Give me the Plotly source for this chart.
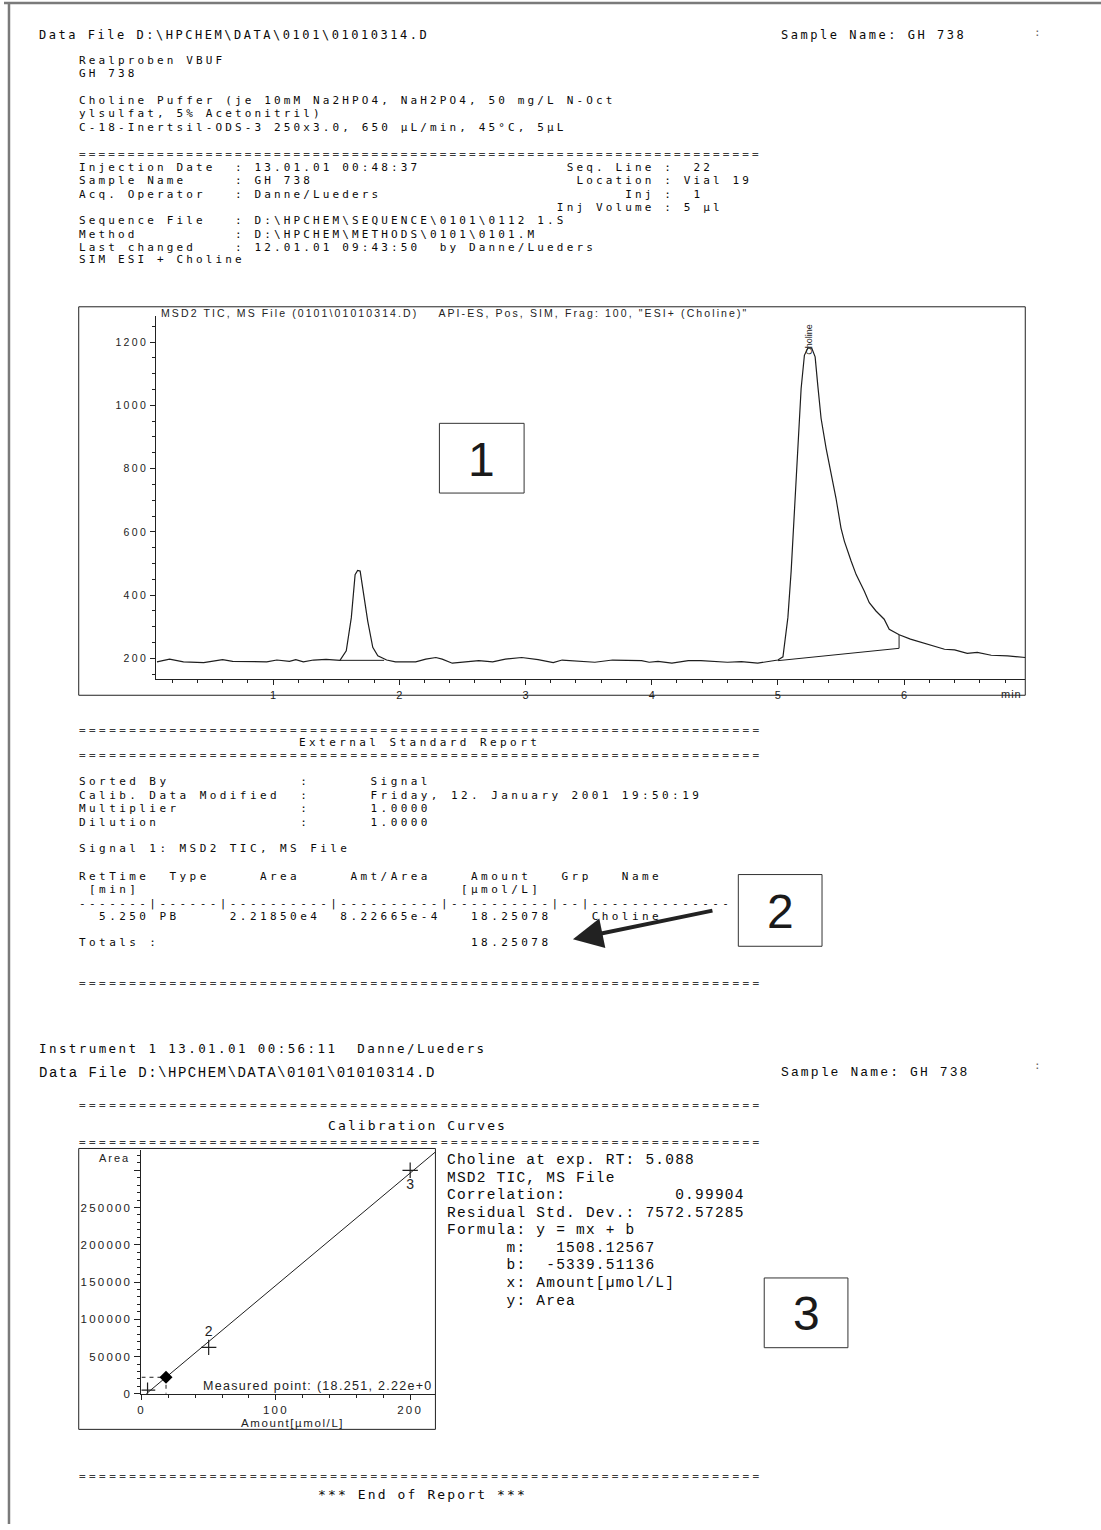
import plotly.graph_objects as go

W, H = 1101, 1530


def px(x):
    return x / W


def py(y):
    return 1 - y / H


MONO = "DejaVu Sans Mono, Liberation Mono, monospace"
MONO2 = "Liberation Mono, Courier New, monospace"
SANS = "Liberation Sans, Arial, sans-serif"
INK = "#0a0a0a"

# ---------------- data: chromatogram (time in min, TIC signal) ----------------
chrom_time = [0.08, 0.18, 0.29, 0.45, 0.60, 0.68, 0.95, 1.03, 1.13, 1.18, 1.24, 1.32, 1.42, 1.53,
              1.58, 1.62, 1.65, 1.67, 1.69, 1.71, 1.75, 1.79, 1.83, 1.90, 1.97, 2.13, 2.21, 2.29,
              2.34, 2.42, 2.53, 2.63, 2.74, 2.84, 2.97, 3.10, 3.22, 3.29, 3.55, 3.69, 3.92, 3.98,
              4.05, 4.16, 4.29, 4.39, 4.60, 4.71, 4.84, 4.92, 5.00, 5.04, 5.079, 5.105, 5.132,
              5.158, 5.184, 5.21, 5.237, 5.268, 5.295, 5.316, 5.342, 5.382, 5.42, 5.46, 5.50,
              5.527, 5.58, 5.62, 5.684, 5.724, 5.777, 5.842, 5.882, 5.961, 6.05, 6.15, 6.32,
              6.40, 6.50, 6.58, 6.69, 6.82, 6.96]
chrom_signal = [189, 198, 189, 187, 196, 191, 189, 195, 191, 196, 189, 195, 197, 194,
                224, 329, 465, 478, 476, 423, 318, 235, 208, 195, 189, 189, 198, 203,
                198, 185, 189, 193, 189, 198, 203, 196, 187, 195, 188, 195, 193, 188,
                191, 185, 193, 193, 188, 190, 185, 190, 195, 205, 329, 476, 686,
                885, 1053, 1158, 1181, 1181, 1153, 1063, 959, 864, 791, 707, 612,
                570, 508, 465, 413, 376, 350, 324, 292, 275, 261, 250, 229,
                227, 216, 219, 210, 208, 203]
peak1_base_time = [1.53, 1.88]
peak1_base_signal = [194, 194]
peak2_base_time = [5.00, 5.96, 5.96]
peak2_base_signal = [193, 232, 275]
chrom_xticks = [1, 2, 3, 4, 5, 6]
chrom_yticks = [200, 400, 600, 800, 1000, 1200]
chrom_title = 'MSD2 TIC, MS File (0101\\01010314.D)    API-ES, Pos, SIM, Frag: 100, "ESI+ (Choline)"'
peak_name = "Choline"

# ---------------- data: calibration ----------------
calib_levels = ["1", "2", "3"]
calib_amount = [4.5, 50, 200]
calib_area = [5000, 62300, 300000]
calib_slope = 1508.12567
calib_intercept = -5339.51136
calib_line_amount = [3.54, 218.8]
measured_amount = 18.251
measured_area = 22185.0
calib_xticks = [0, 100, 200]
calib_yticks = [0, 50000, 100000, 150000, 200000, 250000, 300000]
calib_yticklabels = ["0", "50000", "100000", "150000", "200000", "250000", ""]

# ---------------- text content ----------------
data_file = r"Data File D:\HPCHEM\DATA\0101\01010314.D"
sample_name = "Sample Name: GH 738"
header_lines = [
    (61, "Realproben VBUF"),
    (74, "GH 738"),
    (101, "Choline Puffer (je 10mM Na2HPO4, NaH2PO4, 50 mg/L N-Oct"),
    (114, "ylsulfat, 5% Acetonitril)"),
    (128, "C-18-Inertsil-ODS-3 250x3.0, 650 µL/min, 45°C, 5µL"),
    (168, "Injection Date  : 13.01.01 00:48:37".ljust(50) + "Seq. Line :  22"),
    (181, "Sample Name     : GH 738".ljust(51) + "Location : Vial 19"),
    (195, "Acq. Operator   : Danne/Lueders".ljust(56) + "Inj :  1"),
    (208, " " * 49 + "Inj Volume : 5 µl"),
    (221, r"Sequence File   : D:\HPCHEM\SEQUENCE\0101\0112 1.S"),
    (235, r"Method          : D:\HPCHEM\METHODS\0101\0101.M"),
    (248, "Last changed    : 12.01.01 09:43:50  by Danne/Lueders"),
    (261, "SIM ESI + Choline"),
]


def place(parts):
    s = ""
    for idx, t in parts:
        s = s.ljust(idx) + t
    return s


report_lines = [
    (785, place([(0, "Sorted By"), (22, ":"), (29, "Signal")])),
    (799, place([(0, "Calib. Data Modified"), (22, ":"), (29, "Friday, 12. January 2001 19:50:19")])),
    (812, place([(0, "Multiplier"), (22, ":"), (29, "1.0000")])),
    (825.7, place([(0, "Dilution"), (22, ":"), (29, "1.0000")])),
    (852, "Signal 1: MSD2 TIC, MS File"),
    (880, place([(0, "RetTime"), (9, "Type"), (18, "Area"), (27, "Amt/Area"), (39, "Amount"), (48, "Grp"), (54, "Name")])),
    (893, place([(1, "[min]"), (38, "[µmol/L]")])),
    (906.7, "-------|------|----------|----------|----------|--|--------------"),
    (920, place([(2, "5.250"), (8, "PB"), (15, "2.21850e4"), (26, "8.22665e-4"), (39, "18.25078"), (51, "Choline")])),
    (946.7, place([(0, "Totals :"), (39, "18.25078")])),
]

calib_info = [
    (1165, "Choline at exp. RT: 5.088"),
    (1182.7, "MSD2 TIC, MS File"),
    (1200, "Correlation:           0.99904"),
    (1217.3, "Residual Std. Dev.: 7572.57285"),
    (1235, "Formula: y = mx + b"),
    (1252.7, "      m:   1508.12567"),
    (1270, "      b:  -5339.51136"),
    (1288.3, "      x: Amount[µmol/L]"),
    (1306, "      y: Area"),
]

annots = []


def spaced(s, ls):
    s = s.replace(" ", "\u00a0")
    if ls:
        return '<span style="letter-spacing:%.2fpx">%s</span>' % (ls, s)
    return s


def txt(x, y, s, size=11, family=MONO, anchor="left", color=INK, angle=0, cw=None, ls=0):
    # cw: target advance per character for monospace text
    if cw is not None:
        ls = cw - 0.602 * size
    annots.append(dict(x=px(x), y=py(y), xref="paper", yref="paper",
                       text=spaced(s, ls), showarrow=False,
                       xanchor=anchor, yanchor="middle", borderpad=0, borderwidth=0,
                       textangle=angle, font=dict(family=family, size=size, color=color)))


CW_TOP = 9.75
CW_REP = 10.05
CW_CAL = 9.95
FS_ROW = 11

# page 1 header
txt(35, 35, data_file, 12, cw=CW_TOP)
txt(780, 35, sample_name, 12, cw=CW_TOP)
txt(1037, 33, ":", 11, color="#666666", anchor="center")
for y, s in header_lines:
    txt(75, y, s, FS_ROW, cw=CW_TOP)
txt(75, 155, "=" * 70, FS_ROW, color="#3a3a3a", cw=CW_TOP)

# chromatogram texts
txt(158, 314, chrom_title, 10.5, SANS, color="#222222", ls=2.1)
txt(808, 341, peak_name, 9, SANS, anchor="center", angle=-90, color="#222222")
txt(1011, 697, "min", 11, SANS, anchor="center", color="#222222", ls=1)

# report
txt(75, 733, "=" * 68, FS_ROW, color="#3a3a3a", cw=CW_REP)
txt(417, 745, "External Standard Report", FS_ROW, anchor="center", cw=CW_REP)
txt(75, 758, "=" * 68, FS_ROW, color="#3a3a3a", cw=CW_REP)
for y, s in report_lines:
    txt(75, y, s, FS_ROW, cw=CW_REP)
txt(75, 987, "=" * 68, FS_ROW, color="#3a3a3a", cw=CW_REP)

# page 2 header
txt(35, 1053, "Instrument 1 13.01.01 00:56:11  Danne/Lueders", 12.5, cw=CW_CAL)
txt(35, 1077, data_file, 14, MONO2, cw=CW_CAL)
txt(780, 1077, sample_name, 13, MONO2, cw=CW_CAL)
txt(1037, 1070, ":", 11, color="#666666", anchor="center")
txt(75, 1110, "=" * 68, FS_ROW, color="#3a3a3a", cw=CW_REP)
txt(415, 1130, "Calibration Curves", 13, anchor="center", cw=CW_CAL)
txt(75, 1147, "=" * 68, FS_ROW, color="#3a3a3a", cw=CW_REP)
for y, s in calib_info:
    txt(445, y, s, 14.5, MONO2, cw=CW_CAL)
txt(75, 1482, "=" * 68, FS_ROW, color="#3a3a3a", cw=CW_REP)
txt(420, 1500, "*** End of Report ***", 13, anchor="center", cw=CW_CAL)

# calibration plot texts
txt(111, 1163, "Area", 11, SANS, anchor="center", color="#222222", ls=2)
txt(290, 1429, "Amount[µmol/L]", 11.5, SANS, anchor="center", color="#222222", ls=1.6)
txt(200, 1391, "Measured point: (18.251, 2.22e+0", 12.5, SANS, color="#222222", ls=1.3)

# numbered boxes
for (x0, y0, x1, y1, lab) in [(437, 425, 522, 495, "1"), (737, 878, 821, 950, "2"), (763, 1283, 847, 1353, "3")]:
    txt((x0 + x1) / 2, (y0 + y1) / 2 + 1, lab, 48, SANS, anchor="center", color="#1a1a1a")

# arrow
annots.append(dict(x=px(571), y=py(943), xref="paper", yref="paper", ax=712 - 571, ay=914 - 943,
                   axref="pixel", ayref="pixel", text="", showarrow=True, arrowhead=2,
                   arrowsize=1.5, arrowwidth=4, arrowcolor="#222222", standoff=0))

shapes = []


def rect(x0, y0, x1, y1, color="#222222", width=1):
    shapes.append(dict(type="rect", xref="paper", yref="paper", x0=px(x0), x1=px(x1),
                       y0=py(y1), y1=py(y0), line=dict(color=color, width=width)))


def line(x0, y0, x1, y1, color="#222222", width=1):
    shapes.append(dict(type="line", xref="paper", yref="paper", x0=px(x0), x1=px(x1),
                       y0=py(y0), y1=py(y1), line=dict(color=color, width=width)))


line(0, 3, 1101, 3, "#7a7a7a", 2.5)
line(5, 3, 5, 1530, "#7a7a7a", 2.5)
rect(75, 308, 1025, 698)
rect(75, 1153, 433, 1435)
rect(437, 425, 522, 495, "#333333")
rect(737, 878, 821, 950, "#333333")
rect(763, 1283, 847, 1353, "#333333")

fig = go.Figure()

# chromatogram traces
fig.add_trace(go.Scatter(x=chrom_time, y=chrom_signal, mode="lines",
                         line=dict(color="#1e1e1e", width=1.2), xaxis="x", yaxis="y"))
fig.add_trace(go.Scatter(x=peak1_base_time, y=peak1_base_signal, mode="lines",
                         line=dict(color="#1e1e1e", width=1), xaxis="x", yaxis="y"))
fig.add_trace(go.Scatter(x=peak2_base_time, y=peak2_base_signal, mode="lines",
                         line=dict(color="#1e1e1e", width=1), xaxis="x", yaxis="y"))

# calibration traces
line_area = [calib_slope * a + calib_intercept for a in calib_line_amount]
fig.add_trace(go.Scatter(x=calib_line_amount, y=line_area, mode="lines",
                         line=dict(color="#1e1e1e", width=1), xaxis="x2", yaxis="y2"))
fig.add_trace(go.Scatter(x=[0, measured_amount, measured_amount], y=[measured_area, measured_area, 0],
                         mode="lines", line=dict(color="#1e1e1e", width=1, dash="4px,4px"),
                         xaxis="x2", yaxis="y2"))
fig.add_trace(go.Scatter(x=calib_amount, y=calib_area, mode="markers+text", text=calib_levels,
                         textposition=["top left", "top center", "bottom center"],
                         textfont=dict(family=SANS, size=14, color="#1e1e1e"),
                         marker=dict(symbol="cross-thin", size=11, line=dict(width=1.2, color="#1e1e1e")),
                         xaxis="x2", yaxis="y2"))
fig.add_trace(go.Scatter(x=[measured_amount], y=[measured_area], mode="markers",
                         marker=dict(symbol="diamond", size=10, color="#000000"),
                         xaxis="x2", yaxis="y2"))

axis_common = dict(showgrid=False, zeroline=False, showline=True, linecolor="#222222", linewidth=1,
                   ticks="outside", tickcolor="#222222", fixedrange=True)


def tick_labels(vals, ls):
    return [spaced(str(v), ls) if str(v) else "" for v in vals]


fig.update_layout(
    width=W, height=H, margin=dict(l=0, r=0, t=0, b=0),
    paper_bgcolor="white", plot_bgcolor="rgba(0,0,0,0)", showlegend=False,
    xaxis=dict(domain=[px(153), px(1025)], range=[0.076, 6.96], anchor="y",
               tickmode="array", tickvals=chrom_xticks, ticktext=tick_labels(chrom_xticks, 0),
               ticklen=5, tickfont=dict(family=SANS, size=11, color="#222222"),
               minor=dict(tickmode="linear", tick0=0, dtick=0.2, ticklen=3, ticks="outside",
                          tickcolor="#222222"),
               **axis_common),
    yaxis=dict(domain=[py(682), py(317)], range=[134, 1283], anchor="x",
               tickmode="array", tickvals=chrom_yticks, ticktext=tick_labels(chrom_yticks, 2.4),
               ticklen=5, tickfont=dict(family=SANS, size=10.5, color="#222222"),
               minor=dict(tickmode="linear", tick0=0, dtick=50, ticklen=3, ticks="outside",
                          tickcolor="#222222"),
               **axis_common),
    xaxis2=dict(domain=[px(138), px(433)], range=[0, 218.8], anchor="y2",
                tickmode="array", tickvals=calib_xticks, ticktext=tick_labels(calib_xticks, 2.2),
                ticklen=5, tickfont=dict(family=SANS, size=11.5, color="#222222"),
                minor=dict(tickmode="linear", tick0=0, dtick=20, ticklen=3, ticks="outside",
                           tickcolor="#222222"),
                **axis_common),
    yaxis2=dict(domain=[py(1399.3), py(1155)], range=[0, 326600], anchor="x2",
                tickmode="array", tickvals=calib_yticks, ticktext=tick_labels(calib_yticklabels, 2.2),
                ticklen=6, tickfont=dict(family=SANS, size=11.5, color="#222222"),
                minor=dict(tickmode="linear", tick0=0, dtick=10000, ticklen=3, ticks="outside",
                           tickcolor="#222222"),
                **axis_common),
    annotations=annots,
    shapes=shapes,
)

fig.write_html("out.html")
